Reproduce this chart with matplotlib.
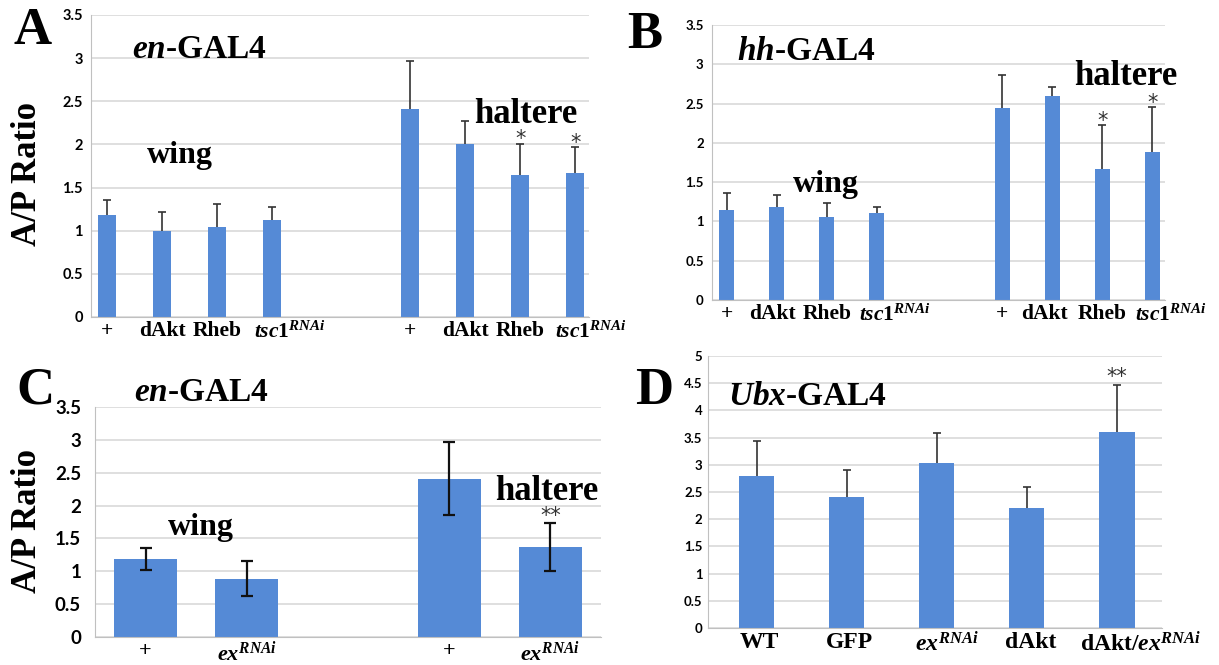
import matplotlib
matplotlib.use("Agg")
import numpy as np
import matplotlib.pyplot as plt
from matplotlib.transforms import ScaledTranslation

# ---- data ----
# A: en-GAL4, wing then haltere
a_labels = ["+", "dAkt", "Rheb", r"$\mathit{tsc1}^{\mathit{RNAi}}$",
            "+", "dAkt", "Rheb", r"$\mathit{tsc1}^{\mathit{RNAi}}$"]
a_values = [1.18, 1.00, 1.04, 1.12, 2.41, 2.00, 1.65, 1.67]
a_err = [0.18, 0.22, 0.27, 0.16, 0.56, 0.27, 0.36, 0.30]
a_stars = ["", "", "", "", "", "", "*", "*"]

# B: hh-GAL4, wing then haltere
b_labels = a_labels
b_values = [1.15, 1.19, 1.06, 1.11, 2.45, 2.60, 1.67, 1.88]
b_err = [0.21, 0.15, 0.18, 0.07, 0.42, 0.11, 0.56, 0.58]
b_stars = ["", "", "", "", "", "", "*", "*"]

# C: en-GAL4, ex RNAi (symmetric error bars)
c_labels = ["+", r"$\mathit{ex}^{\mathit{RNAi}}$", "+", r"$\mathit{ex}^{\mathit{RNAi}}$"]
c_values = [1.19, 0.89, 2.41, 1.37]
c_err = [0.17, 0.27, 0.56, 0.36]
c_stars = ["", "", "", "**"]

# D: Ubx-GAL4
d_labels = ["WT", "GFP", r"$\mathit{ex}^{\mathit{RNAi}}$", "dAkt",
            r"dAkt/$\mathit{ex}^{\mathit{RNAi}}$"]
d_values = [2.80, 2.40, 3.03, 2.20, 3.60]
d_err = [0.63, 0.50, 0.56, 0.39, 0.86]
d_stars = ["", "", "", "", "**"]

BAR = "#558ad6"
GRID = "#d9d9d9"
W, H = 1219, 665

plt.rcParams["font.family"] = "Liberation Serif"
plt.rcParams["font.weight"] = "bold"
plt.rcParams["mathtext.fontset"] = "custom"
plt.rcParams["mathtext.rm"] = "Liberation Serif:bold"
plt.rcParams["mathtext.bf"] = "Liberation Serif:bold"
plt.rcParams["mathtext.it"] = "Liberation Serif:italic:bold"

fig = plt.figure(figsize=(W / 100, H / 100), dpi=100)


def rect(x0, x1, ytop, ybot):
    return [x0 / W, 1 - ybot / H, (x1 - x0) / W, (ybot - ytop) / H]


def ftext(x, y, s, size, **kw):
    kw.setdefault("ha", "center")
    kw.setdefault("va", "baseline")
    fig.text(x / W, 1 - y / H, s, fontsize=size, fontweight="bold", **kw)


def shift_labels(ax, shifts):
    # nudge some x tick labels sideways (pixels)
    for lab, dx in zip(ax.get_xticklabels(), shifts):
        if dx:
            lab.set_transform(lab.get_transform()
                              + ScaledTranslation(dx / 100, 0, fig.dpi_scale_trans))


def panel(r, pos, values, err, labels, stars, width, ymax, ytick_size,
          xlab_size, ypad, sym=False, star_dy=5):
    ax = fig.add_axes(r)
    ax.bar(pos, values, width=width, color=BAR, zorder=2)
    if sym:
        ax.errorbar(pos, values, yerr=err, fmt="none", ecolor="#111111",
                    elinewidth=1.6, capsize=4, capthick=1.6, zorder=3)
    else:
        lo = np.zeros(len(values))
        eb = ax.errorbar(pos, values, yerr=[lo, err], fmt="none",
                         ecolor="#333333", elinewidth=1.2, capsize=3,
                         capthick=1.2, zorder=3)
        eb[1][0].set_visible(False)
    tops = np.array(values) + np.array(err)
    for x, t, s in zip(pos, tops, stars):
        if s:
            ax.annotate(s, (x, t), xytext=(0, star_dy),
                        textcoords="offset points", ha="center", va="center",
                        fontsize=15, color="#333333",
                        fontfamily="DejaVu Sans", fontweight="normal")
    ticks = np.arange(0, ymax + 0.01, 0.5)
    ax.set_ylim(0, ymax)
    ax.set_yticks(ticks)
    ax.set_yticklabels([f"{v:g}" for v in ticks], fontfamily="Lato",
                       fontweight="bold", fontsize=ytick_size)
    ax.set_xticks(pos)
    ax.set_xticklabels(labels, fontsize=xlab_size)
    ax.yaxis.grid(True, color=GRID, linewidth=1.2, zorder=0)
    ax.set_axisbelow(True)
    for sp in ["top", "right"]:
        ax.spines[sp].set_visible(False)
    ax.spines["left"].set_color("#c0c0c0")
    ax.spines["bottom"].set_color("#c0c0c0")
    ax.tick_params(length=0)
    ax.tick_params(axis="y", pad=ypad)
    ax.tick_params(axis="x", pad=3)
    return ax


pos8 = [0, 1, 2, 3, 5.5, 6.5, 7.5, 8.5]

axA = panel(rect(91, 589, 15, 317), pos8, a_values, a_err, a_labels, a_stars,
            0.32, 3.5, 10.5, 15.5, 6, star_dy=3)
axA.set_xlim(-0.29, 8.75)
shift_labels(axA, [0, 0, 0, 18, 0, 0, 0, 16])

axB = panel(rect(712, 1165, 25, 300), pos8, b_values, b_err, b_labels, b_stars,
            0.30, 3.5, 9.5, 15.5, 6, star_dy=3)
axB.set_xlim(-0.29, 8.75)
shift_labels(axB, [0, -4, 0, 18, 0, -8, 0, 18])

axC = panel(rect(95, 601, 407, 637), [0, 1, 3, 4], c_values, c_err, c_labels,
            c_stars, 0.62, 3.5, 13.5, 16, 10, sym=True, star_dy=5)
axC.set_xlim(-0.5, 4.5)

axD = panel(rect(708, 1162, 356, 628), [0, 1, 2, 3, 4], d_values, d_err,
            d_labels, d_stars, 0.39, 5.0, 9.5, 17, 4, star_dy=6)
axD.set_xlim(-0.54, 4.5)
shift_labels(axD, [3, 3, 10, 4, 24])

# panel letters and annotations
ftext(33, 44, "A", 38)
ftext(199, 58, r"$\mathit{en}$-GAL4", 24)
ftext(180, 163, "wing", 23)
ftext(526, 123, "haltere", 25)
ftext(28, 174, "A/P Ratio", 25, rotation=90, va="center")

ftext(645, 48, "B", 38)
ftext(806, 60, r"$\mathit{hh}$-GAL4", 24)
ftext(826, 192, "wing", 23)
ftext(1126, 85, "haltere", 25)

ftext(35, 403, "C", 38)
ftext(201, 401, r"$\mathit{en}$-GAL4", 24)
ftext(201, 535, "wing", 23)
ftext(547, 500, "haltere", 25)
ftext(28, 521, "A/P Ratio", 25, rotation=90, va="center")

ftext(654, 404, "D", 38)
ftext(808, 405, r"$\mathit{Ubx}$-GAL4", 24)

fig.savefig("out.png", dpi=100)
